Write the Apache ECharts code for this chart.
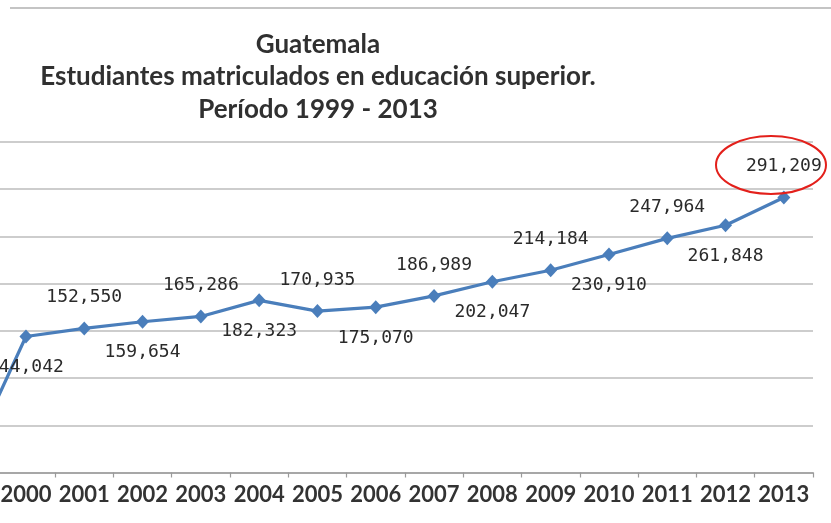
<!DOCTYPE html>
<html>
<head>
<meta charset="utf-8">
<script src="https://cdn.jsdelivr.net/npm/echarts@6/dist/echarts.min.js"></script>
<style>
  html, body { margin: 0; padding: 0; background: #ffffff; }
  #chart { width: 831px; height: 523px; }
</style>
</head>
<body>
<div id="chart"></div>
<script>
// Data
var years = ['1999', '2000', '2001', '2002', '2003', '2004', '2005', '2006', '2007', '2008', '2009', '2010', '2011', '2012', '2013'];
var students = [10000, 144042, 152550, 159654, 165286, 182323, 170935, 175070, 186989, 202047, 214184, 230910, 247964, 261848, 291209];
var titleLines = ['Guatemala', 'Estudiantes matriculados en educación superior.', 'Período 1999 - 2013'];

function fmt(v) {
  return String(v).replace(/\B(?=(\d{3})+(?!\d))/g, ',');
}

var seriesData = students.map(function (v, i) {
  var item = { value: v };
  if (i === 0) {
    item.label = { show: false };
  } else {
    item.label = { position: (i % 2 === 1) ? 'bottom' : 'top' };
  }
  return item;
});

var chart = echarts.init(document.getElementById('chart'), null, { renderer: 'canvas' });
chart.setOption({
  backgroundColor: '#ffffff',
  animation: false,
  title: {
    text: titleLines.join('\n'),
    left: 313,
    top: 23,
    textAlign: 'center',
    textStyle: {
      fontFamily: 'Lato',
      fontWeight: 'bold',
      fontSize: 26,
      lineHeight: 32.5,
      color: '#303030'
    }
  },
  grid: {
    left: -61.5,
    right: 18,
    top: 142,
    bottom: 50.5,
    containLabel: false,
    outerBoundsMode: 'none'
  },
  xAxis: {
    type: 'category',
    data: years,
    boundaryGap: true,
    axisLine: { show: true, lineStyle: { color: '#9a9a9a', width: 1.5 } },
    axisTick: { show: true, length: 5, lineStyle: { color: '#9a9a9a', width: 1.2 } },
    axisLabel: {
      interval: 0,
      margin: 11,
      fontFamily: 'Lato',
      fontWeight: 'bold',
      fontSize: 22,
      color: '#333333'
    },
    splitLine: { show: false }
  },
  yAxis: {
    type: 'value',
    min: 0,
    max: 350000,
    interval: 50000,
    axisLine: { show: false },
    axisTick: { show: false },
    axisLabel: { show: false },
    splitLine: { show: true, lineStyle: { color: '#bdbdbd', width: 1.6 } }
  },
  series: [{
    type: 'line',
    data: seriesData,
    symbol: 'diamond',
    symbolSize: [13, 14],
    showAllSymbol: true,
    clip: false,
    lineStyle: { color: '#4a7ebb', width: 3.2 },
    itemStyle: { color: '#4a7ebb' },
    label: {
      show: true,
      distance: 15,
      fontFamily: 'DejaVu Sans Mono',
      fontSize: 18,
      color: '#2a2a2a',
      formatter: function (p) { return fmt(p.value); }
    }
  }],
  graphic: [
    {
      type: 'line',
      shape: { x1: 10, y1: 8, x2: 831, y2: 8 },
      style: { stroke: '#c4c4c4', lineWidth: 2 },
      silent: true
    },
    {
      type: 'ellipse',
      shape: { cx: 771, cy: 165, rx: 55, ry: 29 },
      style: { fill: null, stroke: '#e3201b', lineWidth: 2 },
      silent: true,
      z: 100
    }
  ]
});
</script>
</body>
</html>
